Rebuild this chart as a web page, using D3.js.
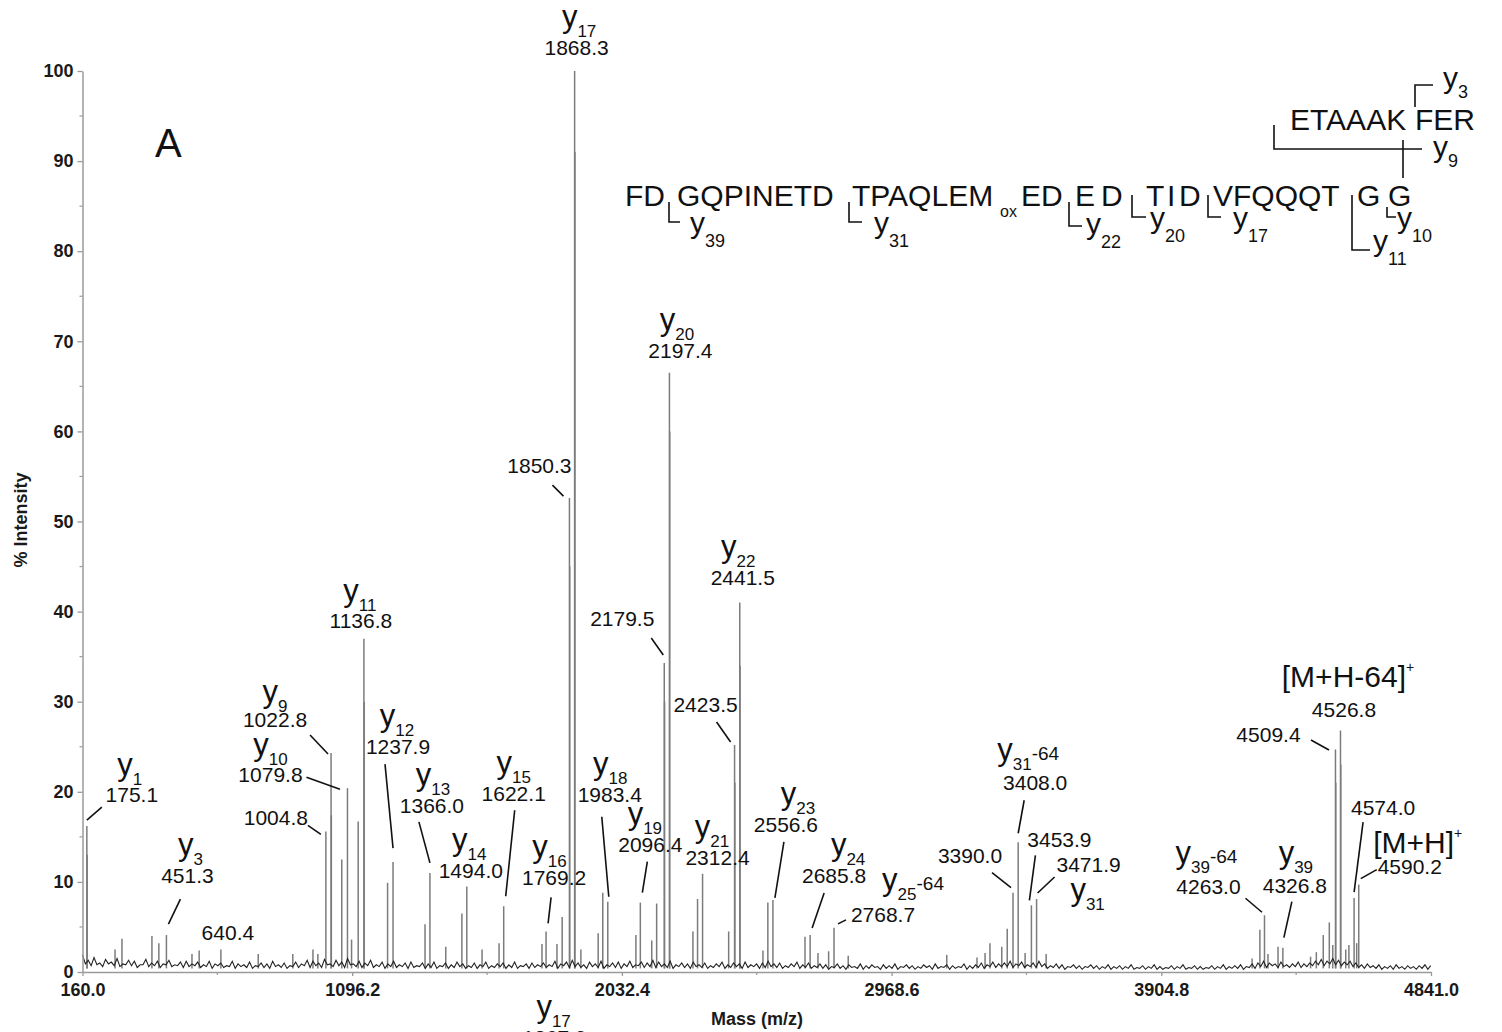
<!DOCTYPE html>
<html>
<head>
<meta charset="utf-8">
<script src="https://cdn.jsdelivr.net/npm/d3@7"></script>
<style>
  html, body { margin: 0; padding: 0; background: #fff; }
  svg { display: block; font-family: "Liberation Sans", Arial, Helvetica, sans-serif; }
</style>
</head>
<body>
<svg id="chart" width="1502" height="1032"></svg>
<script>
// ---- axis ticks ----
const xTicks = [160.0, 1096.2, 2032.4, 2968.6, 3904.8, 4841.0];
const yTicks = [0, 10, 20, 30, 40, 50, 60, 70, 80, 90, 100];

// ---- resolved peaks: m/z and % intensity ----
const peakMz = [
  175.1, 176.1, 273, 297, 401, 425, 451.3, 540, 565, 640.4, 770, 890, 960, 977,
  1004.8, 1022.8, 1023.8, 1060, 1079.8, 1094, 1117, 1136.8, 1137.8, 1219, 1237.9,
  1349, 1366.0, 1421, 1477, 1494.0, 1547, 1606, 1622.1, 1755, 1769.2, 1807, 1825,
  1850.3, 1851.3, 1868.3, 1869.3, 1890, 1950, 1966, 1983.4, 2081, 2096.4, 2136, 2153,
  2179.5, 2180.5, 2197.4, 2198.4, 2279, 2295, 2312.4, 2403, 2423.5, 2424.5, 2441.5, 2442.5,
  2522, 2539, 2556.6, 2668, 2685.8, 2713, 2750, 2768.7, 2818, 3160, 3265, 3293, 3310,
  3351, 3370, 3390.0, 3408.0, 3432, 3453.9, 3471.9, 3505, 4220, 4247, 4263.0, 4275,
  4310, 4326.8, 4423, 4443, 4467, 4488, 4500, 4509.4, 4510.4, 4526.8, 4527.8, 4545,
  4556, 4574.0, 4583, 4590.2
];
const peakInt = [
  16.2, 13.0, 2.5, 3.7, 4.0, 3.2, 4.1, 2.0, 2.4, 2.5, 2.0, 2.0, 2.5, 2.0,
  15.6, 24.3, 17.4, 12.5, 20.4, 3.6, 16.7, 37.0, 30.0, 9.9, 12.2,
  5.3, 11.0, 2.8, 6.5, 9.5, 2.5, 3.2, 7.3, 3.1, 4.5, 3.1, 6.1,
  52.6, 45.0, 100, 91.0, 2.5, 4.3, 8.8, 7.8, 4.1, 7.7, 3.5, 7.6,
  34.3, 30.0, 66.5, 60.0, 4.5, 8.1, 10.9, 4.5, 25.2, 21.0, 41.0, 34.0,
  2.4, 7.7, 8.0, 3.9, 4.1, 2.1, 2.3, 4.9, 1.8, 1.9, 1.6, 2.1, 3.2,
  2.8, 4.8, 8.8, 14.4, 2.1, 7.4, 8.1, 2.0, 1.5, 4.7, 6.3, 2.0,
  2.8, 2.7, 1.7, 2.2, 4.1, 5.5, 3.0, 24.7, 21.0, 26.8, 23.0, 2.5,
  3.0, 8.2, 3.2, 9.7
];

// ---- baseline noise: local maxima every 20 m/z from 160 ----
const noiseStart = 160, noiseStep = 20;
const noiseHigh = [
  1.9,1.3,1.6,1.0,1.4,1.1,1.5,0.9,1.3,1.2,0.8,1.4,1.0,1.2,0.9,1.3,0.8,1.1,1.2,0.9,
  1.1,0.8,1.2,0.9,1.0,0.7,1.2,0.9,0.8,1.1,0.7,1.0,0.9,1.2,0.8,1.0,0.7,1.1,0.9,1.3,
  1.2,1.0,1.4,0.9,1.3,1.1,1.5,0.9,1.2,1.0,1.3,0.8,1.1,0.9,1.2,0.8,1.0,1.1,0.7,1.0,
  0.9,1.1,0.7,1.0,0.8,1.1,0.9,0.7,1.0,0.8,1.1,0.7,0.9,1.0,0.8,1.1,0.7,0.9,1.0,0.8,
  1.0,0.8,1.2,0.9,1.1,1.3,1.0,0.8,1.1,0.9,1.2,0.8,1.0,1.1,0.9,1.2,0.8,1.1,1.0,1.3,
  1.1,0.9,1.2,0.8,1.0,0.9,1.1,0.8,1.0,0.7,0.9,1.1,0.8,1.0,0.9,1.1,0.8,0.9,1.0,1.2,
  0.9,1.0,0.7,0.9,1.1,0.8,1.0,0.7,0.9,0.8,0.6,0.9,0.7,0.8,0.6,0.9,0.7,0.8,0.6,0.8,
  0.7,0.9,0.6,0.8,0.7,0.6,0.8,0.7,0.9,0.6,0.8,0.7,0.6,0.9,0.7,0.8,1.0,0.8,1.1,0.9,
  1.0,1.2,0.9,1.1,0.8,1.0,1.2,0.9,0.7,0.9,0.8,0.6,0.8,0.7,0.6,0.8,0.7,0.6,0.8,0.6,
  0.7,0.6,0.8,0.5,0.7,0.6,0.8,0.6,0.5,0.7,0.6,0.8,0.5,0.7,0.6,0.5,0.7,0.6,0.8,0.6,
  0.7,0.8,0.6,0.9,1.0,1.2,1.0,0.9,1.1,0.8,0.9,1.1,0.9,1.0,1.2,1.4,1.2,1.5,1.3,1.1,
  1.2,1.0,0.8,0.9,0.7,0.8,0.6,0.7,0.8,0.6,0.7,0.6,0.7,0.8,0.7
];
// ---- baseline noise: local minima every 20 m/z from 170 ----
const noiseLowStart = 170;
const noiseLow = [
  0.9,0.7,0.8,0.6,0.9,0.7,0.6,0.8,0.7,0.5,0.8,0.6,0.7,0.5,0.8,0.6,0.7,0.5,0.6,0.7,
  0.5,0.6,0.4,0.7,0.5,0.6,0.4,0.6,0.5,0.4,0.6,0.5,0.4,0.6,0.5,0.4,0.6,0.5,0.7,0.5,
  0.7,0.5,0.8,0.6,0.7,0.5,0.8,0.6,0.5,0.7,0.5,0.6,0.4,0.6,0.5,0.6,0.4,0.5,0.6,0.4,
  0.5,0.4,0.6,0.4,0.5,0.6,0.4,0.5,0.4,0.6,0.4,0.5,0.6,0.4,0.5,0.4,0.6,0.4,0.5,0.6,
  0.5,0.6,0.4,0.7,0.5,0.6,0.5,0.4,0.6,0.5,0.4,0.6,0.5,0.4,0.6,0.5,0.7,0.5,0.6,0.5,
  0.6,0.5,0.4,0.6,0.5,0.4,0.6,0.5,0.4,0.5,0.6,0.4,0.5,0.6,0.4,0.5,0.6,0.4,0.5,0.6,
  0.5,0.4,0.5,0.6,0.4,0.5,0.4,0.5,0.4,0.3,0.5,0.4,0.3,0.5,0.4,0.3,0.4,0.5,0.3,0.4,
  0.4,0.3,0.5,0.4,0.3,0.4,0.5,0.3,0.4,0.5,0.3,0.4,0.5,0.3,0.4,0.5,0.4,0.6,0.5,0.6,
  0.6,0.5,0.7,0.5,0.6,0.5,0.6,0.4,0.5,0.4,0.3,0.5,0.4,0.3,0.5,0.4,0.3,0.4,0.3,0.4,
  0.3,0.4,0.3,0.4,0.3,0.4,0.3,0.3,0.4,0.3,0.4,0.3,0.4,0.3,0.3,0.4,0.3,0.4,0.3,0.4,
  0.4,0.3,0.5,0.4,0.6,0.5,0.7,0.5,0.6,0.5,0.6,0.5,0.6,0.7,0.8,0.7,0.9,0.8,0.7,0.8,
  0.6,0.5,0.4,0.5,0.4,0.3,0.4,0.3,0.4,0.3,0.4,0.3,0.4,0.3
];

// ---- annotated peaks ----
const labelMz = [
  175.1, 451.3, 640.4, 1004.8, 1022.8, 1079.8, 1136.8, 1237.9, 1366.0, 1494.0,
  1622.1, 1769.2, 1850.3, 1868.3, 1983.4, 2096.4, 2179.5, 2197.4, 2312.4, 2423.5,
  2441.5, 2556.6, 2685.8, 2768.7, 3390.0, 3408.0, 3453.9, 3471.9, 4263.0, 4326.8,
  4509.4, 4526.8, 4574.0, 4590.2
];
const labelIon = [
  "y1", "y3", "", "", "y9", "y10", "y11", "y12", "y13", "y14",
  "y15", "y16", "", "y17", "y18", "y19", "", "y20", "y21", "",
  "y22", "y23", "y24", "y25-64", "", "y31-64", "", "y31", "y39-64", "y39",
  "", "[M+H-64]+", "", "[M+H]+"
];

// label placement relative to the peak apex (px):
// [number dx, number dy, leader [x1,y1,x2,y2] or null, ion offset [dx,dy] from number]
const labelLayout = [
  [45, -24, [0, -6, 15, -19], [-2, -27]],
  [21, -52, [2, -11, 14, -36], [3, -28]],
  [7, -9, null, null],
  [-50, -6, [-18, -6, -5, 3], null],
  [-56, -26, [-21, -18, -3, 1], [0, -25]],
  [-77, -6, [-41, -11, -7.5, 1], [0, -27]],
  [-3, -11, null, [-1, -27]],
  [5, -108, [-8, -98, 0, -14], [-1, -28]],
  [2, -60, [-11, -51, 0, -10], [1, -28]],
  [4, -8, null, [-1.5, -28]],
  [10, -105, [11, -96, 2, -10], [0, -28]],
  [8, -46, [5, -34, 2, -8], [-4.5, -28]],
  [-30, -25, [-17, -13, -6, -2], null],
  [2, -16, null, [2.5, -28]],
  [2, -100, [-6, -85, 1, -5], [0.5, -28]],
  [10, -51, [7, -41, 2, -10], [-5.5, -28]],
  [-42, -37, [-13, -25, -1, -8], null],
  [11, -15, null, [-3.5, -28]],
  [15, -9, null, [-5.5, -28]],
  [-29, -33, [-18, -23, -4, -3], null],
  [3, -18, null, [-4.5, -28]],
  [13, -68, [11, -58, 2, -2], [12, -28]],
  [24, -52, [14, -42, 2, -7], [14, -28]],
  [49, -6, [4, -4, 12, -8], [30, -32]],
  [-43, -30, [-21, -20, -2, -5], null],
  [17, -52, [6, -42, 0, -9], [-7, -30]],
  [28, -58, [4, -50, -2, -5], null],
  [52, -27, [18, -22, 1, -6], [-1, 28]],
  [-56, -21, [-19, -17, -2.5, -3], [-2, -31]],
  [12, -55, [9, -46, 1, -10], [1, -30]],
  [-67, -7.5, [-24.5, -9.5, -6.5, 0.5], null],
  [3.5, -13.5, null, [4, -30]],
  [29, -83, [9, -76, 0, -6], null],
  [51, -11, [18, -15, 2, -6], [8, -21]]
];

// ---- peptide sequence with fragmentation sites ----
const seqMain = ["FD", "GQPINETD", "TPAQLEM", "ED", "E", "D", "T", "I", "D", "VFQQQT", "G", "G"];
const seqMainX = [625, 677, 852, 1021, 1075, 1101, 1146, 1167, 1179, 1213, 1357, 1388];
const seqTop = ["ETAAAK", "FER"];
const seqTopX = [1290, 1415];
// cleavage brackets below the main line: [ion number, x, yTop, yBottom, xEnd, labelX, labelY]
const seqCuts = [
  ["39", 669, 202, 222, 680, 690, 233],
  ["31", 849, 202, 222, 862, 874, 233],
  ["22", 1069, 202, 226, 1082, 1086, 234],
  ["20", 1132, 195, 217, 1146, 1150, 228],
  ["17", 1208, 195, 217, 1221, 1233, 228],
  ["11", 1352, 195, 250, 1370, 1373, 251],
  ["10", 1387, 207, 217, 1396, 1397, 228]
];

const FONT = '"Liberation Sans", Arial, Helvetica, sans-serif';
const svg = d3.select("#chart");
svg.append("rect").attr("width", 1502).attr("height", 1032).attr("fill", "#fff");

const x = d3.scaleLinear().domain([160, 4841]).range([82.5, 1431]);
const y = d3.scaleLinear().domain([0, 100]).range([972, 71]);
const axisColor = "#9a9a9a";

// ---- spectrum ----
const peaks = d3.zip(peakMz, peakInt);
svg.append("g").selectAll("line").data(peaks).join("line")
  .attr("x1", d => x(d[0])).attr("x2", d => x(d[0]))
  .attr("y1", y(0.4)).attr("y2", d => y(d[1]))
  .attr("stroke", "#7c7c7c").attr("stroke-width", 1.5);

const noisePts = noiseHigh.map((v, i) => [noiseStart + i * noiseStep, v])
  .concat(noiseLow.map((v, i) => [noiseLowStart + i * noiseStep, v]))
  .sort((a, b) => a[0] - b[0]);
svg.append("path")
  .attr("d", d3.line().x(d => x(d[0])).y(d => y(d[1]))(noisePts))
  .attr("fill", "none").attr("stroke", "#222").attr("stroke-width", 1.1);

// ---- axes ----
const yAxisG = svg.append("g").attr("transform", `translate(${x(160)},0)`)
  .call(d3.axisLeft(y).tickValues(yTicks).tickSize(5).tickSizeOuter(0).tickPadding(4));
const xAxisG = svg.append("g").attr("transform", `translate(0,${y(0)})`)
  .call(d3.axisBottom(x).tickValues(xTicks).tickFormat(d3.format(".1f"))
    .tickSize(4).tickSizeOuter(0).tickPadding(7));
[yAxisG, xAxisG].forEach(g => {
  g.attr("font-family", FONT).attr("font-size", 18).attr("font-weight", "bold");
  g.select(".domain").attr("stroke", axisColor).attr("stroke-width", 1.5);
  g.selectAll(".tick line").attr("stroke", axisColor).attr("stroke-width", 1.3);
  g.selectAll(".tick text").attr("fill", "#1a1a1a");
});
// minor ticks
svg.append("g").selectAll("line").data(d3.range(5, 100, 10)).join("line")
  .attr("x1", x(160) - 3).attr("x2", x(160))
  .attr("y1", d => y(d)).attr("y2", d => y(d))
  .attr("stroke", axisColor).attr("stroke-width", 1.2);
svg.append("g").selectAll("line").data(d3.pairs(xTicks).map(p => (p[0] + p[1]) / 2)).join("line")
  .attr("x1", d => x(d)).attr("x2", d => x(d))
  .attr("y1", y(0)).attr("y2", y(0) + 3)
  .attr("stroke", axisColor).attr("stroke-width", 1.2);

svg.append("text")
  .attr("transform", "translate(27,520) rotate(-90)")
  .attr("text-anchor", "middle").attr("font-weight", "bold").attr("font-size", 18)
  .attr("fill", "#1a1a1a").text("% Intensity");
svg.append("text")
  .attr("x", 757).attr("y", 1025)
  .attr("text-anchor", "middle").attr("font-weight", "bold").attr("font-size", 18)
  .attr("fill", "#1a1a1a").text("Mass (m/z)");

svg.append("text").attr("x", 155).attr("y", 157)
  .attr("font-size", 40).attr("fill", "#111").text("A");

// ---- peak annotations ----
const annot = svg.append("g").attr("fill", "#111");

function drawIon(g, label, cx, cy) {
  const t = g.append("text").attr("x", cx).attr("y", cy).attr("text-anchor", "middle");
  if (label.startsWith("[")) {
    t.append("tspan").attr("font-size", 30).text(label.slice(0, -1));
    t.append("tspan").attr("font-size", 14).attr("dy", -15).text(label.slice(-1));
  } else {
    const m = label.match(/^y(\d+)(.*)$/);
    t.append("tspan").attr("font-size", 31).text("y");
    t.append("tspan").attr("font-size", 17).attr("dy", 10).text(m[1]);
    if (m[2]) t.append("tspan").attr("font-size", 19).attr("dy", -10).text(m[2]);
  }
}

const fmt = d3.format(".1f");
labelMz.forEach((mz, i) => {
  const inten = peakInt[peakMz.indexOf(mz)];
  const ax = x(mz), ay = y(inten);
  const [dx, dy, leader, ionOff] = labelLayout[i];
  const nx = ax + dx, ny = ay + dy;
  annot.append("text").attr("x", nx).attr("y", ny)
    .attr("text-anchor", "middle").attr("font-size", 21).text(fmt(mz));
  if (labelIon[i]) drawIon(annot, labelIon[i], nx + ionOff[0], ny + ionOff[1]);
  if (leader) {
    annot.append("line")
      .attr("x1", ax + leader[0]).attr("y1", ay + leader[1])
      .attr("x2", ax + leader[2]).attr("y2", ay + leader[3])
      .attr("stroke", "#111").attr("stroke-width", 1.6);
  }
});

// y17 label of the companion panel below the axis
drawIon(annot, "y17", x(1868.3) - 21, y(0) + 45);
annot.append("text").attr("x", x(1868.3) - 20).attr("y", y(0) + 73)
  .attr("text-anchor", "middle").attr("font-size", 21).text("1867.9");

// ---- peptide sequence ----
const seq = svg.append("g").attr("fill", "#111");
seqMain.forEach((s, i) => {
  seq.append("text").attr("x", seqMainX[i]).attr("y", 206).attr("font-size", 30).text(s);
});
seq.append("text").attr("x", 1000).attr("y", 217).attr("font-size", 16).text("ox");
seqTop.forEach((s, i) => {
  seq.append("text").attr("x", seqTopX[i]).attr("y", 130).attr("font-size", 30).text(s);
});

function seqIon(num, lx, ly, subDy) {
  const t = seq.append("text").attr("x", lx).attr("y", ly);
  t.append("tspan").attr("font-size", 30).text("y");
  t.append("tspan").attr("font-size", 18).attr("dy", subDy).text(num);
}
const bracket = (d) => seq.append("path").attr("d", d)
  .attr("fill", "none").attr("stroke", "#111").attr("stroke-width", 1.6);

seqCuts.forEach(([num, bx, y0, y1, x1, lx, ly]) => {
  bracket(`M${bx},${y0}V${y1}H${x1}`);
  seqIon(num, lx, ly, 14);
});
// C-terminal y3 and y9 brackets on the upper line
bracket("M1415,107V85H1433");
seqIon("3", 1443, 88, 10);
bracket("M1274,125V149H1422");
seqIon("9", 1433, 157, 10);
bracket("M1403,140V178");
</script>
</body>
</html>
